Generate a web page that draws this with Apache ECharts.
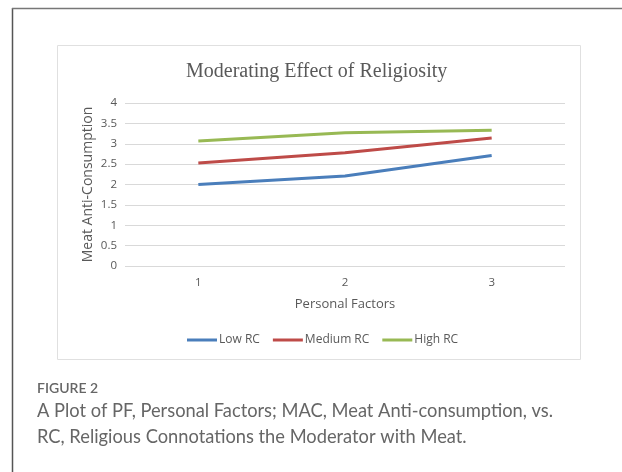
<!DOCTYPE html>
<html lang="en">
<head>
  <meta charset="UTF-8">
  <script src="https://cdn.jsdelivr.net/npm/echarts@6/dist/echarts.min.js"></script>
  <style>
    html, body { margin: 0; padding: 0; background: #fff; }
    #chart { width: 622px; height: 472px; }
  </style>
</head>
<body>
  <div id="chart"></div>
  <script>
    // data
    const factors = ['1', '2', '3'];
    const lowRC = [2.0, 2.21, 2.71];
    const mediumRC = [2.53, 2.78, 3.14];
    const highRC = [3.07, 3.27, 3.33];
    const seriesNames = ['Low RC', 'Medium RC', 'High RC'];
    const colors = ['#4a7ebb', '#be4b48', '#98b954'];

    const txt = '#595959';
    const chart = echarts.init(document.getElementById('chart'));

    function line(name, data, color) {
      return {
        name: name,
        type: 'line',
        data: data,
        symbol: 'none',
        lineStyle: { width: 3, color: color },
        itemStyle: { color: color }
      };
    }

    chart.setOption({
      animation: false,
      title: {
        text: 'Moderating Effect of Religiosity',
        left: 181,
        top: 57,
        textStyle: { fontFamily: 'Liberation Serif', fontWeight: 'normal', fontSize: 20, color: txt }
      },
      legend: {
        top: 329,
        left: 182,
        itemWidth: 30,
        itemHeight: 3,
        itemGap: 13,
        icon: 'rect',
        data: seriesNames,
        textStyle: { fontFamily: 'Open Sans', fontSize: 12, color: txt, padding: [0, 0, 0, -3] }
      },
      grid: { left: 125, right: 57, top: 103, bottom: 206 },
      xAxis: {
        type: 'category',
        data: factors,
        name: 'Personal Factors',
        nameLocation: 'middle',
        nameGap: 32,
        nameTextStyle: { fontFamily: 'Open Sans', fontSize: 13, color: txt },
        axisLine: { show: false },
        axisTick: { show: false },
        axisLabel: { fontFamily: 'Open Sans', fontSize: 11.5, color: txt, margin: 11 }
      },
      yAxis: {
        type: 'value',
        min: 0,
        max: 4,
        interval: 0.5,
        name: 'Meat Anti-Consumption',
        nameLocation: 'middle',
        nameGap: 30,
        nameMoveOverlap: false,
        nameTextStyle: { fontFamily: 'Open Sans', fontSize: 14, color: txt },
        axisLabel: { fontFamily: 'Open Sans', fontSize: 11.5, color: txt, margin: 8 },
        splitLine: { lineStyle: { color: '#d9d9d9', width: 1 } }
      },
      series: [
        line(seriesNames[0], lowRC, colors[0]),
        line(seriesNames[1], mediumRC, colors[1]),
        line(seriesNames[2], highRC, colors[2])
      ],
      graphic: [
        { type: 'line', shape: { x1: 12.5, y1: 8, x2: 12.5, y2: 472 }, style: { stroke: '#555', lineWidth: 1.5 } },
        { type: 'line', shape: { x1: 12, y1: 8.5, x2: 622, y2: 8.5 }, style: { stroke: '#777', lineWidth: 1.5 } },
        { type: 'rect', shape: { x: 57.5, y: 45.5, width: 523, height: 314 }, style: { fill: 'none', stroke: '#e0e0e0', lineWidth: 1 } },
        { type: 'text', left: 37, top: 381, style: { text: 'FIGURE 2', font: '600 14px Lato', fill: '#666' } },
        { type: 'text', left: 37, top: 402, style: { text: 'A Plot of PF, Personal Factors; MAC, Meat Anti-consumption, vs.', font: '18.3px Lato', fill: '#666' } },
        { type: 'text', left: 37, top: 428, style: { text: 'RC, Religious Connotations the Moderator with Meat.', font: '18.3px Lato', fill: '#666' } }
      ]
    });
  </script>
</body>
</html>
